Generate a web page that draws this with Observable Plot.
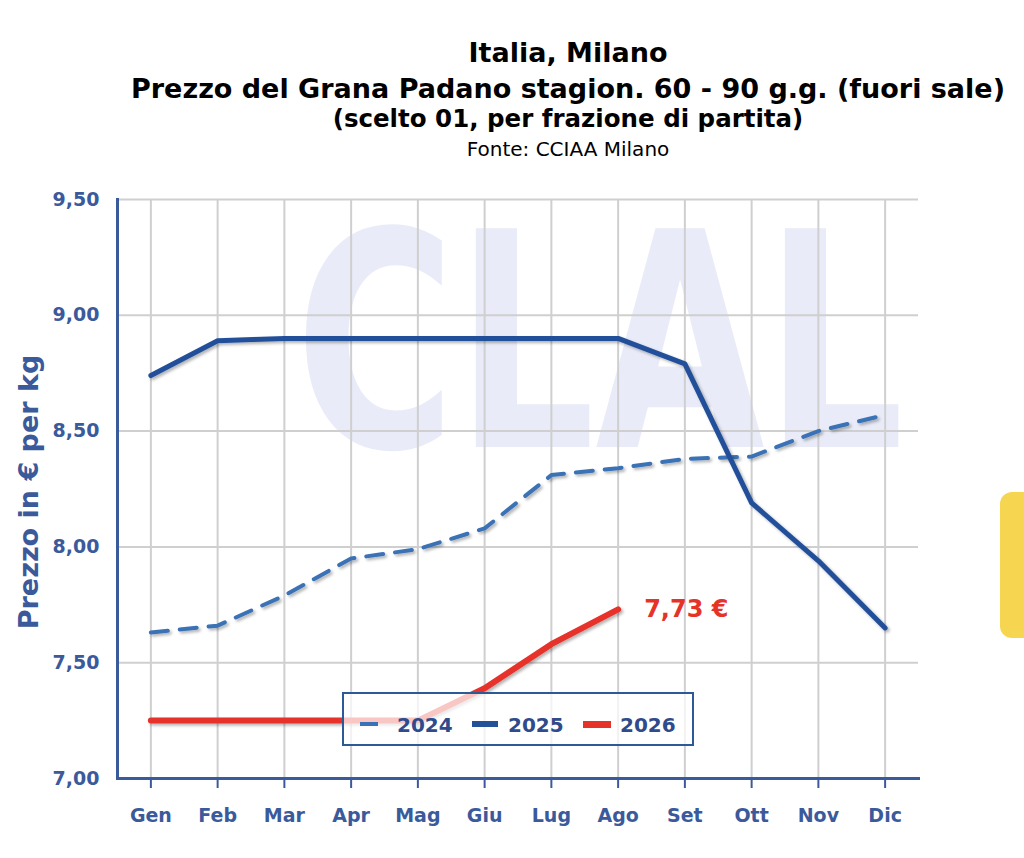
<!DOCTYPE html>
<html><head><meta charset="utf-8">
<script src="https://cdn.jsdelivr.net/npm/d3@7"></script>
<script src="https://cdn.jsdelivr.net/npm/@observablehq/plot@0.6"></script>
<style>
body{margin:0;background:#fff;font-family:"DejaVu Sans",Verdana,sans-serif;}
#wrap{position:relative;width:1024px;height:858px;overflow:hidden;background:#fff}
.t{position:absolute;left:112px;width:912px;text-align:center;color:#000;white-space:nowrap;
   font-family:"DejaVu Sans",Verdana,sans-serif;line-height:1.164}
#chart{position:absolute;left:0;top:160px}
#legend{position:absolute;left:342px;top:692px;width:348px;height:50px;border:2px solid #2c5a96;background:rgba(255,255,255,0.72)}
#legend .sw{position:absolute}
#legend .lt{position:absolute;top:19px;font-weight:bold;font-size:20px;color:#2f4b8c;line-height:24px}
#tab{position:absolute;left:1000px;top:492px;width:40px;height:146px;border-radius:12px;background:#f6d651}
</style></head>
<body>
<div id="wrap">
  <div class="t" style="top:37px;font-size:27px;font-weight:bold">Italia, Milano</div>
  <div class="t" style="top:73px;font-size:27px;font-weight:bold">Prezzo del Grana Padano stagion. 60 - 90 g.g. (fuori sale)</div>
  <div class="t" style="top:105px;font-size:24.5px;font-weight:bold">(scelto 01, per frazione di partita)</div>
  <div class="t" style="top:138px;font-size:20px">Fonte: CCIAA Milano</div>
  <div id="chart"></div>
  <div id="legend">
    <div class="sw" style="left:16px;top:28px;width:18px;height:4px;background:#3a72b5"></div>
    <div class="lt" style="left:53px">2024</div>
    <div class="sw" style="left:128px;top:27px;width:26px;height:6px;background:#24509a"></div>
    <div class="lt" style="left:164px">2025</div>
    <div class="sw" style="left:239px;top:27px;width:28px;height:7px;background:#e63329"></div>
    <div class="lt" style="left:276px">2026</div>
  </div>
  <div id="tab"></div>
</div>
<script>
const months = ["Gen","Feb","Mar","Apr","Mag","Giu","Lug","Ago","Set","Ott","Nov","Dic"];
const values2024 = [7.63, 7.66, 7.79, 7.95, 7.99, 8.08, 8.31, 8.34, 8.38, 8.39, 8.50, 8.57];
const values2025 = [8.74, 8.89, 8.90, 8.90, 8.90, 8.90, 8.90, 8.90, 8.79, 8.19, 7.94, 7.65];
const values2026 = [7.25, 7.25, 7.25, 7.25, 7.25, 7.39, 7.58, 7.73];
const yTicks = [7.00, 7.50, 8.00, 8.50, 9.00, 9.50];
const lastLabel = "7,73 €";

const toRows = (vals, year) => vals.map((v, i) => ({month: months[i], value: v, year}));
const d2024 = toRows(values2024, "2024");
const d2025 = toRows(values2025, "2025");
const d2026 = toRows(values2026, "2026");

const axisColor = "#3b5a9b";
const fmt = d => d.toFixed(2).replace(".", ",");

const chart = Plot.plot({
  width: 1024,
  height: 698,
  marginTop: 39,
  marginBottom: 80,
  marginLeft: 117,
  marginRight: 106,
  style: {fontFamily: "'DejaVu Sans', Verdana, sans-serif", background: "transparent"},
  x: {type: "point", domain: months, padding: 0.5, round: false},
  y: {domain: [7, 9.5]},
  marks: [
    Plot.ruleX(months, {x: d => d, stroke: "#cfcfcf", strokeWidth: 2}),
    Plot.ruleY(yTicks.filter(v => v > 7), {y: d => d, stroke: "#cfcfcf", strokeWidth: 2}),
    Plot.axisX({tickSize: 10, tickPadding: 20, fontSize: 19, fontWeight: "bold", fill: axisColor, stroke: axisColor, strokeWidth: 2, label: null}),
    Plot.axisY({ticks: yTicks, tickFormat: fmt, tickSize: 0, tickPadding: 18, fontSize: 19, fontWeight: "bold", fill: axisColor, label: null}),
    Plot.text(["Prezzo in € per kg"], {frameAnchor: "left", text: d => d, rotate: -90, dx: -88, dy: 3, textAnchor: "middle", fontSize: 27, fontWeight: "bold", fill: axisColor}),
    Plot.frame({anchor: "left", stroke: axisColor, strokeWidth: 3}),
    Plot.frame({anchor: "bottom", stroke: axisColor, strokeWidth: 3}),
    Plot.line(d2024, {x: "month", y: "value", stroke: "#3a72b5", strokeWidth: 4, strokeDasharray: "17,12"}),
    Plot.line(d2025, {x: "month", y: "value", stroke: "#24509a", strokeWidth: 5}),
    Plot.line(d2026, {x: "month", y: "value", stroke: "#e63329", strokeWidth: 6}),
    Plot.text(d2026.slice(-1), {x: "month", y: "value", text: () => lastLabel, dx: 26, textAnchor: "start", fill: "#e63329", fontSize: 24, fontWeight: "bold"})
  ]
});

const svg = d3.select(chart);
const defs = svg.insert("defs", ":first-child");
const f = defs.append("filter").attr("id", "shadow").attr("x", "-5%").attr("y", "-5%").attr("width", "110%").attr("height", "120%");
f.append("feDropShadow").attr("dx", 2).attr("dy", 2).attr("stdDeviation", 1.5).attr("flood-color", "#000").attr("flood-opacity", 0.3);
svg.selectAll("g[aria-label='line']").attr("filter", "url(#shadow)");

// watermark behind the grid (decorative logo)
svg.insert("text", "g")
  .attr("transform", "translate(295,287) scale(0.73,1)")
  .attr("text-anchor", "start")
  .attr("font-size", 300).attr("font-weight", "bold")
  .attr("font-family", "'DejaVu Sans', sans-serif")
  .attr("fill", "#e9ecf8")
  .attr("aria-hidden", "true")
  .text("CLAL");

document.getElementById("chart").appendChild(chart);
</script>
</body></html>
